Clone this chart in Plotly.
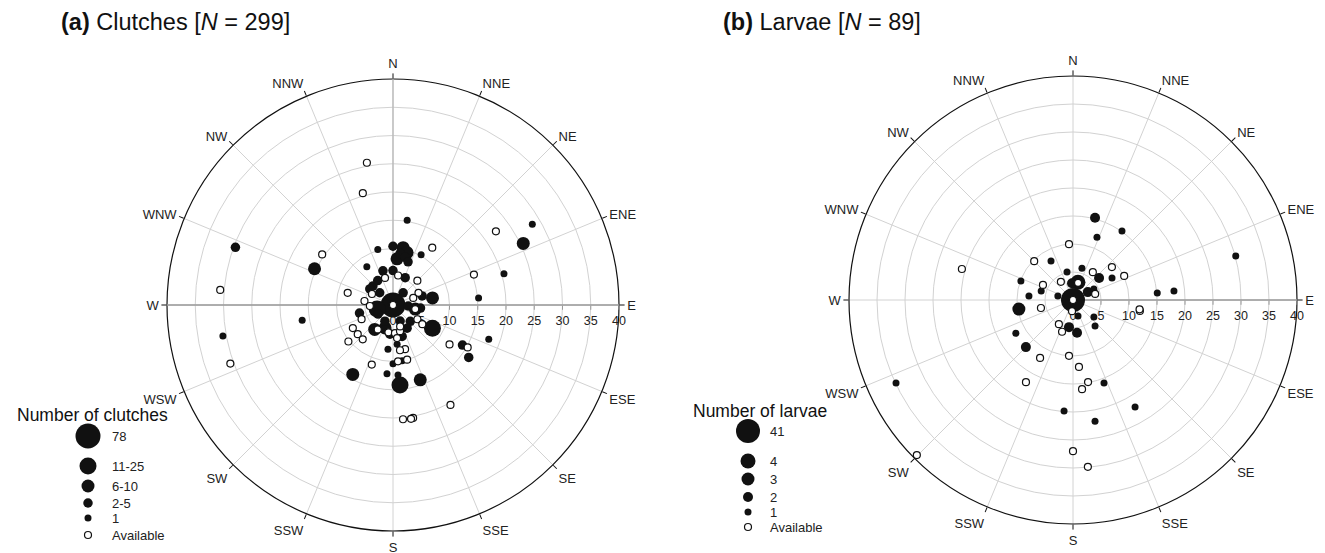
import plotly.graph_objects as go

W, H = 1325, 553
FONT = "Liberation Sans, Arial, Helvetica, sans-serif"

COMPASS = ["N", "NNE", "NE", "ENE", "E", "ESE", "SE", "SSE",
           "S", "SSW", "SW", "WSW", "W", "WNW", "NW", "NNW"]
COMPASS_DEG = [i * 22.5 for i in range(16)]
RADIAL_TICKS = [0, 5, 10, 15, 20, 25, 30, 35, 40]

# ---------------- (a) Clutches: distance r, bearing theta (deg) ----------------
clutch_78_r = [0]
clutch_78_t = [0]

clutch_11_25_r = [2.9, 8.1, 14.2]
clutch_11_25_t = [256, 120.5, 175]

clutch_6_10_r = [25.5, 15.3, 10.3, 9.6, 8.2, 7.1, 4.0, 5.4, 4.3, 14.1, 14.2]
clutch_6_10_t = [64.7, 294.8, 10, 15, 5, 79.8, 100.3, 216.9, 199, 160, 210.1]

clutch_2_5_r = [29.7, 9.2, 8.7, 8.1, 6.3, 6.1, 5.3, 4.9, 5.1, 3.1, 6.1, 5.4, 4.9,
                4.2, 4.8, 5.2, 5.8, 5.0, 3.2, 3.1, 2.7, 2.8, 3.2, 10.4, 14.2, 16.3]
clutch_2_5_t = [290.1, 7.8, 14.3, 19.2, 343.6, 0, 24, 313.5, 328, 239, 256.4, 72.8, 96.3,
                133.3, 148.7, 186, 163.8, 304.8, 206.6, 156, 93.8, 39.8, 312.7, 0, 120, 124.7]

clutch_1_r = [15.2, 28.5, 16.3, 30.6, 20.4, 15.2, 18.0, 10.2, 8.2, 10.2,
              7.9, 7.0, 10.4, 10.0, 12.2, 12.4]
clutch_1_t = [9.5, 59.9, 260.5, 259.7, 74.3, 85.3, 109.7, 29.2, 325.6, 344.7,
              186.5, 174, 180, 170.7, 185, 175.9]

clutch_avail_r = [25.6, 20.5, 22.4, 15.4, 30.7, 30.6, 15.3, 12.3, 15.2, 12.2, 20.4,
                  20.3, 20.4, 20.3, 8.3, 5.0, 5.3, 4.2, 5.1, 4.1, 6.1, 6.1, 5.0, 3.8,
                  4.0, 5.0, 6.2, 5.1, 4.9, 5.0, 4.8, 4.0, 5.9, 8.2, 8.1, 8.1, 10.2,
                  8.1, 8.1, 10.0, 10.0, 11.2, 0]
clutch_avail_t = [349.6, 344.9, 54.4, 305.5, 275, 250.2, 69.4, 34.4, 119.6, 124.9, 150.1,
                  169.9, 171, 175, 285, 343.5, 9.8, 297.6, 278, 267.5, 245.7, 45, 64.4, 70.7,
                  100.3, 120.3, 123.2, 212, 189.5, 176, 165, 161.6, 173, 240.1, 230.4, 221.4, 230.7,
                  164.7, 171.2, 174.9, 165.5, 199.6, 0]

# ---------------- (b) Larvae ----------------
larvae_41_r = [0]
larvae_41_t = [0]

larvae_4_r = [3.3]
larvae_4_t = [15.5]

larvae_3_r = [9.8]
larvae_3_t = [260.5]

larvae_2_r = [15.2, 6.1, 3.0, 3.0, 4.9, 5.9, 11.9]
larvae_2_t = [15, 49.8, 356.6, 62, 188.4, 173, 225]

larvae_1_r = [15.1, 12.0, 8.0, 9.9, 5.9, 7.9, 2.8, 5.1, 5.9, 8.0, 4.2, 3.0, 4.8, 6.1,
              15.1, 18.1, 30.1, 11.8, 15.8, 19.9, 22.0, 22.1, 34.9]
larvae_1_t = [35.4, 20.9, 330.6, 290, 285.7, 275.2, 285, 347.9, 15.7, 60.6, 62.4, 162.6, 129, 139.8,
              85.2, 84.9, 74.9, 239.9, 159.5, 184.6, 169.7, 149.9, 244.9]

larvae_avail_r = [10.0, 9.8, 20.6, 6.0, 3.9, 6.1, 9.1, 10.1, 3.2, 4.1, 2.0, 12.1, 12.0,
                  5.9, 5.0, 6.0, 11.9, 10.0, 12.0, 14.9, 16.0, 16.9, 27.0, 29.9, 39.3, 0]
larvae_avail_t = [355.9, 315, 285.6, 296.6, 326.3, 35.5, 49.8, 64.8, 16.4, 74.7, 185, 99.3, 98,
                  256, 210.3, 199, 209.6, 184.1, 174.9, 169.6, 174.2, 209.8, 180, 174.9, 225.2, 0]

clutch_labels = ["78", "11-25", "6-10", "2-5", "1", "Available"]
larvae_labels = ["41", "4", "3", "2", "1", "Available"]

# marker diameters (px) per legend class, largest first
clutch_sizes = [25, 17, 13, 9.5, 7, 7]
larvae_sizes = [24, 15, 13, 10, 7, 7]

clutch_series = [(clutch_78_r, clutch_78_t), (clutch_11_25_r, clutch_11_25_t),
                 (clutch_6_10_r, clutch_6_10_t), (clutch_2_5_r, clutch_2_5_t),
                 (clutch_1_r, clutch_1_t), (clutch_avail_r, clutch_avail_t)]
larvae_series = [(larvae_41_r, larvae_41_t), (larvae_4_r, larvae_4_t),
                 (larvae_3_r, larvae_3_t), (larvae_2_r, larvae_2_t),
                 (larvae_1_r, larvae_1_t), (larvae_avail_r, larvae_avail_t)]

FILL = "#111111"
GRID = "#d2d2d2"
AXIS = "#9a9a9a"


def marker(size, is_open):
    if is_open:
        return dict(size=size, color="white", line=dict(color=FILL, width=1.2))
    return dict(size=size, color=FILL, line=dict(width=0))


fig = go.Figure()

# darker W / N reference lines in panel (a)
fig.add_trace(go.Scatterpolar(r=[0, 40], theta=[270, 270], mode="lines",
                              line=dict(color=AXIS, width=1.5), subplot="polar",
                              hoverinfo="skip", showlegend=False))
fig.add_trace(go.Scatterpolar(r=[0, 40], theta=[0, 0], mode="lines",
                              line=dict(color="#b5b5b5", width=1.2), subplot="polar",
                              hoverinfo="skip", showlegend=False))

for sub, series, sizes, labels in [("polar", clutch_series, clutch_sizes, clutch_labels),
                                   ("polar2", larvae_series, larvae_sizes, larvae_labels)]:
    for (r, t), s, lab in zip(series, sizes, labels):
        fig.add_trace(go.Scatterpolar(r=r, theta=t, mode="markers", name=lab,
                                      marker=marker(s, lab == "Available"),
                                      subplot=sub, showlegend=False))

# ---- legends (drawn on a hidden pixel-scaled cartesian overlay) ----
leg_specs = [
    dict(title="Number of clutches", tx=15, ty=415, mx=88, lx=110,
         ys=[436, 466, 486, 503, 518, 535], labels=clutch_labels, sizes=clutch_sizes),
    dict(title="Number of larvae", tx=691, ty=411, mx=748, lx=768,
         ys=[431, 461, 479, 497, 512, 527], labels=larvae_labels, sizes=larvae_sizes),
]
annotations = []
for spec in leg_specs:
    for y, lab, s in zip(spec["ys"], spec["labels"], spec["sizes"]):
        fig.add_trace(go.Scatter(x=[spec["mx"]], y=[y], mode="markers",
                                 marker=marker(s, lab == "Available"),
                                 xaxis="x", yaxis="y", showlegend=False, hoverinfo="skip"))
        annotations.append(dict(text=lab, x=spec["lx"], y=y, xref="x", yref="y",
                                xanchor="left", yanchor="middle", showarrow=False,
                                font=dict(size=13, color="#222", family=FONT)))
    annotations.append(dict(text=spec["title"], x=spec["tx"], y=spec["ty"], xref="x", yref="y",
                            xanchor="left", yanchor="middle", showarrow=False,
                            font=dict(size=17.5, color="#111", family=FONT)))

annotations.append(dict(text="<b>(a)</b> Clutches [<i>N</i> = 299]", x=59, y=22, xref="x", yref="y",
                        xanchor="left", yanchor="middle", showarrow=False,
                        font=dict(size=23.5, color="#111", family=FONT)))
annotations.append(dict(text="<b>(b)</b> Larvae [<i>N</i> = 89]", x=721, y=22, xref="x", yref="y",
                        xanchor="left", yanchor="middle", showarrow=False,
                        font=dict(size=23.5, color="#111", family=FONT)))


def polar_layout(cx, cy, rad):
    return dict(
        domain=dict(x=[(cx - rad) / W, (cx + rad) / W],
                    y=[(H - cy - rad) / H, (H - cy + rad) / H]),
        bgcolor="white",
        radialaxis=dict(range=[0, 40], tickvals=RADIAL_TICKS, angle=0, side="clockwise",
                        showline=True, linecolor=AXIS, linewidth=1.5,
                        gridcolor=GRID, gridwidth=1, ticks="outside", ticklen=4,
                        tickcolor=AXIS, layer="below traces",
                        tickfont=dict(size=12.5, color="#222", family=FONT)),
        angularaxis=dict(direction="clockwise", rotation=90, tickmode="array",
                         tickvals=COMPASS_DEG, ticktext=COMPASS,
                         showline=True, linecolor="#111", linewidth=1.2,
                         gridcolor=GRID, gridwidth=1, ticks="outside", ticklen=5,
                         tickcolor="#111", layer="below traces",
                         tickfont=dict(size=13, color="#222", family=FONT)),
    )


fig.update_layout(
    width=W, height=H, margin=dict(l=0, r=0, t=0, b=0),
    paper_bgcolor="white", plot_bgcolor="rgba(0,0,0,0)",
    font=dict(family=FONT),
    polar=polar_layout(393, 305, 226),
    polar2=polar_layout(1073, 300, 224),
    xaxis=dict(domain=[0, 1], range=[0, W], visible=False, fixedrange=True),
    yaxis=dict(domain=[0, 1], range=[H, 0], visible=False, fixedrange=True),
    annotations=annotations,
    showlegend=False,
)

fig.write_html("out.html", config={"displayModeBar": False},
               post_script="document.body.style.margin='0px';document.body.style.overflow='hidden';")
